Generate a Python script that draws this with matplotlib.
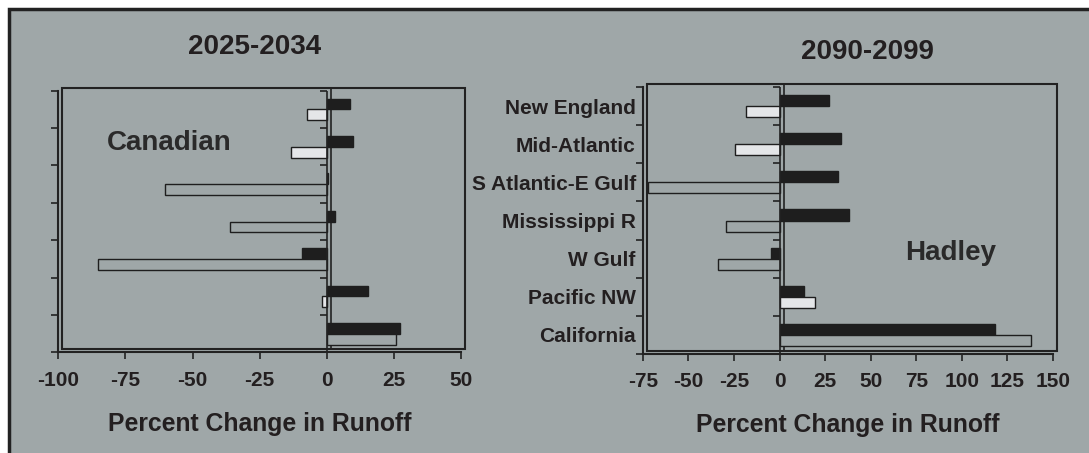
import numpy as np
import matplotlib.pyplot as plt
from matplotlib.patches import Rectangle
from matplotlib.transforms import ScaledTranslation

plt.rcParams['font.family'] = ['Liberation Sans', 'DejaVu Sans']

# data (percent change in runoff)
regions = ["New England", "Mid-Atlantic", "S Atlantic-E Gulf", "Mississippi R",
           "W Gulf", "Pacific NW", "California"]
can_first = [8.6, 9.9, 0.6, 2.9, -9.1, 15.3, 27.1]
can_second = [-7.5, -13.2, -60.4, -36.0, -85.3, -2.0, 25.8]
had_first = [27.4, 33.5, 31.8, 38.3, -4.6, 13.6, 118.2]
had_second = [-18.4, -24.5, -72.0, -29.5, -33.9, 19.5, 138.1]
light_fill = [True, True, False, False, False, True, False]

bg = "#9fa7a8"
dark = "#1e1e1e"
txt = "#231f20"

fig = plt.figure(figsize=(10.89, 4.53), dpi=100, facecolor="white")
# outer framed panel
fig.patches.append(Rectangle((9 / 1089, -0.1), 1.2, 1 - 9 / 453 + 0.1,
                             transform=fig.transFigure, facecolor=bg,
                             edgecolor="#222222", lw=2.5, zorder=-10))


def draw_panel(ax, first, second, xlim, xticks, label_text, label_xy, ylabels):
    ax.set_facecolor("none")
    y = np.arange(len(regions))
    h = 0.29
    second_colors = ["#e4e6e8" if f else bg for f in light_fill]
    ax.barh(y - h / 2, first, height=h, color=dark, edgecolor=dark, lw=1, zorder=3)
    ax.barh(y + h / 2, second, height=h, color=second_colors, edgecolor=dark, lw=1, zorder=3)
    ax.set_xlim(*xlim)
    ax.set_ylim(len(regions) - 0.5, -0.5)
    ax.set_xticks(xticks)
    ax.set_xticklabels([str(t) for t in xticks], fontsize=15, fontweight="bold", color=txt)
    bounds = np.arange(len(regions) + 1) - 0.5
    ax.set_yticks(bounds, minor=True)
    ax.set_yticks(y)
    if ylabels:
        ax.set_yticklabels(regions, fontsize=15, fontweight="bold", color=txt)
    else:
        ax.set_yticklabels([])
    ax.tick_params(axis="y", which="major", length=0, pad=5)
    ax.tick_params(axis="y", which="minor", length=5, width=1.2, color="#222222")
    ax.tick_params(axis="x", length=5, width=1.2, color="#222222", pad=8)
    for s in ["top", "right"]:
        ax.spines[s].set_visible(False)
    for s in ["left", "bottom"]:
        ax.spines[s].set_linewidth(1.5)
        ax.spines[s].set_color("#222222")
    # back wall of the 3d frame
    off = ScaledTranslation(4 / 100, 3 / 100, fig.dpi_scale_trans)
    ax.add_patch(Rectangle((0, 0), 1, 1, transform=ax.transAxes + off, fill=False,
                           edgecolor="#222222", lw=1.5, clip_on=False, zorder=1))
    ax.axvline(0, color="#222222", lw=1.2, zorder=4)
    ax.plot([0, 0], [0, 1], transform=ax.get_xaxis_transform() + off,
            color="#222222", lw=1.2, zorder=2, clip_on=False)
    ax.plot(np.zeros(len(bounds)), bounds, ls="none", marker=0, ms=5, mew=1.2,
            color="#222222", zorder=4, clip_on=False)
    ax.set_xlabel("Percent Change in Runoff", fontsize=17.8, fontweight="bold",
                  color=txt, labelpad=16)
    ax.text(label_xy[0], label_xy[1], label_text, fontsize=20, fontweight="bold",
            color="#2a2a2a", ha="left", va="center", zorder=5)


ax1 = fig.add_axes([0.0535, 0.2219, 0.370, 0.578])
draw_panel(ax1, can_first, can_second, (-100, 50), [-100, -75, -50, -25, 0, 25, 50],
           "Canadian", (-82, 0.9), False)

ax2 = fig.add_axes([0.5902, 0.2185, 0.3768, 0.5894])
draw_panel(ax2, had_first, had_second, (-75, 150), [-75, -50, -25, 0, 25, 50, 75, 100, 125, 150],
           "Hadley", (69, 3.85), True)

fig.text(0.234, 0.896, "2025-2034", fontsize=20, fontweight="bold", color=txt,
         ha="center", va="center")
fig.text(0.797, 0.885, "2090-2099", fontsize=20, fontweight="bold", color=txt,
         ha="center", va="center")

fig.savefig("out.png", dpi=100, facecolor=fig.get_facecolor())
